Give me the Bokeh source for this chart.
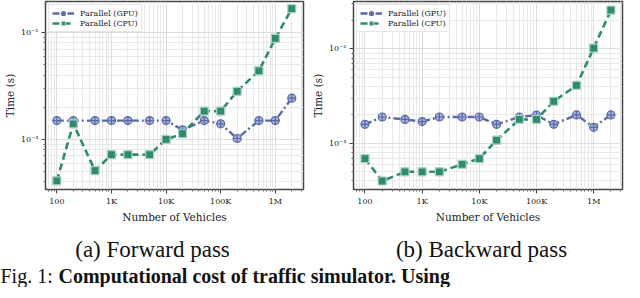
from bokeh.plotting import figure
from bokeh.layouts import column, row
from bokeh.models import (FixedTicker, CustomJSTickFormatter, Legend, LegendItem, Range1d)
from bokeh.core.properties import value
from bokeh.embed import file_html
from bokeh.resources import INLINE

vehicles = [100, 200, 500, 1000, 2000, 5000, 10000, 20000, 50000, 100000, 200000, 500000, 1000000, 2000000]
fwd_gpu = [1.5e-3, 1.5e-3, 1.5e-3, 1.5e-3, 1.5e-3, 1.5e-3, 1.5e-3, 1.23e-3, 1.5e-3, 1.4e-3, 1.02e-3, 1.5e-3, 1.5e-3, 2.43e-3]
fwd_cpu = [4.1e-4, 1.4e-3, 5.1e-4, 7.2e-4, 7.2e-4, 7.2e-4, 1.0e-3, 1.13e-3, 1.84e-3, 1.84e-3, 2.82e-3, 4.38e-3, 8.8e-3, 1.67e-2]
bwd_gpu = [1.59e-3, 1.9e-3, 1.79e-3, 1.7e-3, 1.9e-3, 1.9e-3, 1.9e-3, 1.59e-3, 1.9e-3, 1.99e-3, 1.59e-3, 2.0e-3, 1.48e-3, 2.0e-3]
bwd_cpu = [6.9e-4, 4.0e-4, 5.0e-4, 5.0e-4, 5.0e-4, 6.0e-4, 6.9e-4, 1.08e-3, 1.79e-3, 1.79e-3, 2.79e-3, 4.1e-3, 1.02e-2, 2.57e-2]
series_labels = ["Parallel (GPU)", "Parallel (CPU)"]
captions = ["(a) Forward pass", "(b) Backward pass"]
fig_title_a = "Fig. 1:"
fig_title_b = "Computational cost of traffic simulator. Using"

x_major = [100, 1000, 10000, 100000, 1000000]
x_minor = [m * 10 ** e for e in range(1, 7) for m in range(2, 10)]
y_major = [1e-3, 1e-2]
y_minor = [m * 10.0 ** e for e in (-4, -3, -2) for m in range(2, 10)]

GPU_C = "#5a6aa6"
CPU_C = "#2f8a70"
SERIF = "DejaVu Serif"
CAP_FONT = "Times New Roman"

xfmt = CustomJSTickFormatter(code="""
if (tick >= 1e6) return Math.round(tick/1e6) + "M";
if (tick >= 1e3) return Math.round(tick/1e3) + "K";
return String(Math.round(tick));
""")
yfmt = CustomJSTickFormatter(code="""
const e = Math.round(Math.log10(tick));
const sup = {"-":"\u207b","0":"\u2070","1":"\u00b9","2":"\u00b2","3":"\u00b3","4":"\u2074","5":"\u2075","6":"\u2076","7":"\u2077","8":"\u2078","9":"\u2079"};
return "10" + String(e).split("").map(c => sup[c]).join("");
""")


def make(gpu, cpu, w, bl, br, xr, yr):
    p = figure(width=w, height=225, x_axis_type="log", y_axis_type="log",
               x_range=Range1d(*xr), y_range=Range1d(*yr),
               output_backend="svg", toolbar_location=None,
               min_border_left=bl, min_border_right=br, min_border_top=1, min_border_bottom=0)
    p.outline_line_color = "#444444"
    p.outline_line_width = 1.5
    for ax in (p.xaxis[0], p.yaxis[0]):
        ax.axis_line_color = None
        ax.major_tick_line_color = "#444444"
        ax.minor_tick_line_color = "#666666"
        ax.major_tick_out = 4
        ax.major_tick_in = 0
        ax.minor_tick_out = 2
        ax.minor_tick_in = 0
        ax.major_label_text_font = SERIF
        ax.major_label_text_font_size = "8px"
        ax.major_label_text_color = "#222222"
        ax.axis_label_text_font = SERIF
        ax.axis_label_text_font_size = "10.5px"
        ax.axis_label_text_font_style = "normal"
        ax.axis_label_text_color = "#222222"
        ax.major_label_standoff = 3
        ax.axis_label_standoff = 2
    p.xaxis.ticker = FixedTicker(ticks=x_major, minor_ticks=x_minor)
    p.yaxis.ticker = FixedTicker(ticks=y_major, minor_ticks=y_minor)
    p.xaxis.formatter = xfmt
    p.yaxis.formatter = yfmt
    p.xaxis.axis_label = "Number of Vehicles"
    p.yaxis.axis_label = "Time (s)"
    p.grid.grid_line_color = "#d4d4d4"
    p.grid.grid_line_width = 0.8
    p.grid.minor_grid_line_color = "#e3e3e3"
    p.grid.minor_grid_line_width = 0.8

    l1 = p.line(vehicles, gpu, line_color=GPU_C, line_width=2.4, line_dash="7 3 2 3")
    m1 = p.scatter(vehicles, gpu, marker="circle_cross", size=8, fill_color="#a5afd6",
                   line_color=GPU_C, line_width=1.2)
    l2 = p.line(vehicles, cpu, line_color=CPU_C, line_width=2.6, line_dash="7 4")
    m2 = p.scatter(vehicles, cpu, marker="square", size=8, fill_color=CPU_C,
                   line_color="#a9d2c3", line_width=1.2)
    leg = Legend(items=[LegendItem(label=series_labels[0], renderers=[l1, m1]),
                        LegendItem(label=series_labels[1], renderers=[l2, m2])],
                 location="top_left")
    leg.label_text_font = SERIF
    leg.label_text_font_size = "8px"
    leg.label_text_color = "#222222"
    leg.label_standoff = 6
    leg.glyph_width = 22
    leg.glyph_height = 10
    leg.label_height = 10
    leg.spacing = 0
    leg.padding = 3
    leg.margin = 3
    leg.border_line_color = "#cccccc"
    leg.background_fill_alpha = 0.9
    p.add_layout(leg)
    return p


p1 = make(fwd_gpu, fwd_cpu, 308, 34, 5, (62, 3.28e6), (3.4e-4, 1.95e-2))
p2 = make(bwd_gpu, bwd_cpu, 316, 45, 2, (63, 3.19e6), (3.25e-4, 3.17e-2))

cap = figure(width=624, height=62, x_range=Range1d(0, 624), y_range=Range1d(62, 0),
             output_backend="svg", toolbar_location=None, min_border=0,
             x_axis_location=None, y_axis_location=None)
cap.grid.visible = False
cap.outline_line_color = None
cap.text(x=[152, 481], y=[24, 24], text=captions, text_font=value(CAP_FONT),
         text_font_size="23px", text_align="center", text_baseline="middle", text_color="#111111")
cap.text(x=[0], y=[50], text=[fig_title_a], text_font=value(CAP_FONT),
         text_font_size="20px", text_align="left", text_baseline="alphabetic", text_color="#111111")
cap.text(x=[58], y=[50], text=[fig_title_b], text_font=value(CAP_FONT),
         text_font_size="20px", text_font_style="bold", text_align="left",
         text_baseline="alphabetic", text_color="#111111")

layout = column(row(p1, p2), cap)
open("out.html", "w").write(file_html(layout, INLINE))
